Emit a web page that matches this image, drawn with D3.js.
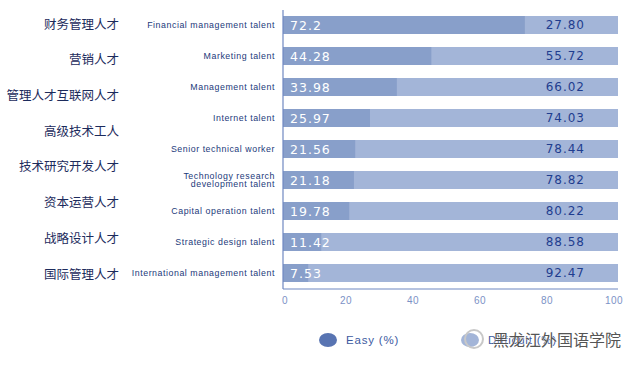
<!DOCTYPE html>
<html>
<head>
<meta charset="utf-8">
<script src="https://cdn.jsdelivr.net/npm/d3@7"></script>
<style>
  body { margin: 0; background: #fff; }
  svg { display: block; }
</style>
</head>
<body>
<div id="chart"></div>
<script>
var svgWidth = 643;
var svgHeight = 365;

// Data
var talentsEn = ["Financial management talent", "Marketing talent", "Management talent",
    "Internet talent", "Senior technical worker", "Technology research|development talent",
    "Capital operation talent", "Strategic design talent", "International management talent"];
var easyValues = [72.2, 44.28, 33.98, 25.97, 21.56, 21.18, 19.78, 11.42, 7.53];
var difficultValues = [27.80, 55.72, 66.02, 74.03, 78.44, 78.82, 80.22, 88.58, 92.47];
var easyLabels = ["72.2", "44.28", "33.98", "25.97", "21.56", "21.18", "19.78", "11.42", "7.53"];
var difficultLabels = ["27.80", "55.72", "66.02", "74.03", "78.44", "78.82", "80.22", "88.58", "92.47"];
var talentsZh = ["财务管理人才", "营销人才", "管理人才互联网人才", "高级技术工人",
    "技术研究开发人才", "资本运营人才", "战略设计人才", "国际管理人才"];
var xTicks = [0, 20, 40, 60, 80, 100];
var legendNames = ["Easy (%)", "Difficult (%)"];

var svg = d3.select("#chart").append("svg")
    .attr("width", svgWidth)
    .attr("height", svgHeight);

// Scales
var xScale = d3.scaleLinear().domain([0, 100]).range([283, 618]);
var yScale = d3.scaleBand().domain(d3.range(talentsEn.length))
    .range([9, 289]).paddingInner(13 / 31).paddingOuter(7 / 31);
var zhScale = d3.scalePoint().domain(d3.range(talentsZh.length)).range([24, 274]);

// Bars - difficult (light, full) then easy (dark)
svg.selectAll(".bar-diff")
    .data(difficultValues)
    .enter().append("rect")
    .attr("x", xScale(0))
    .attr("y", (d, i) => yScale(i))
    .attr("width", (d, i) => xScale(100) - xScale(0))
    .attr("height", yScale.bandwidth())
    .attr("fill", "#a3b5d8");

svg.selectAll(".bar-easy")
    .data(easyValues)
    .enter().append("rect")
    .attr("x", xScale(0))
    .attr("y", (d, i) => yScale(i))
    .attr("width", d => xScale(d) - xScale(0))
    .attr("height", yScale.bandwidth())
    .attr("fill", "#889fca");

// Value labels
svg.selectAll(".lbl-easy")
    .data(easyLabels)
    .enter().append("text")
    .attr("x", xScale(0) + 7)
    .attr("y", (d, i) => yScale(i) + yScale.bandwidth() / 2)
    .attr("dy", "0.36em")
    .style("font-family", "DejaVu Sans")
    .style("font-size", "12.5px")
    .style("letter-spacing", "1px")
    .style("fill", "white")
    .text(d => d);

svg.selectAll(".lbl-diff")
    .data(difficultLabels)
    .enter().append("text")
    .attr("x", 585)
    .attr("y", (d, i) => yScale(i) + yScale.bandwidth() / 2)
    .attr("dy", "0.36em")
    .attr("text-anchor", "end")
    .style("font-family", "DejaVu Sans")
    .style("font-size", "12px")
    .style("letter-spacing", "1px")
    .style("fill", "#1f3d8f")
    .text(d => d);

// English labels
var enText = svg.selectAll(".lbl-en")
    .data(talentsEn)
    .enter().append("text")
    .attr("text-anchor", "end")
    .attr("y", (d, i) => yScale(i) + yScale.bandwidth() / 2)
    .style("font-family", "Liberation Sans")
    .style("font-size", "8.8px")
    .style("letter-spacing", "0.55px")
    .style("fill", "#22397a");

enText.each(function (d) {
    var lines = d.split("|");
    var t = d3.select(this);
    lines.forEach(function (line, j) {
        t.append("tspan")
            .attr("x", 275)
            .attr("dy", j === 0 ? (0.35 - (lines.length - 1) * 0.5) + "em" : "1.0em")
            .text(line);
    });
});

// Chinese labels
svg.selectAll(".lbl-zh")
    .data(talentsZh)
    .enter().append("text")
    .attr("x", 119)
    .attr("y", (d, i) => zhScale(i))
    .attr("dy", "0.36em")
    .attr("text-anchor", "end")
    .style("font-family", "Noto Sans CJK SC")
    .style("font-size", "12.5px")
    .style("fill", "#1c2b5c")
    .text(d => d);

// Axes
var axisColor = "#6f88c2";
svg.append("line")
    .attr("x1", xScale(0)).attr("x2", xScale(0))
    .attr("y1", 10).attr("y2", 289)
    .attr("stroke", axisColor).attr("stroke-width", 1.2);
svg.append("line")
    .attr("x1", xScale(0)).attr("x2", xScale(100))
    .attr("y1", 289).attr("y2", 289)
    .attr("stroke", axisColor).attr("stroke-width", 1.2);

svg.selectAll(".tick-lbl")
    .data(xTicks)
    .enter().append("text")
    .attr("x", d => xScale(d) - (d === 0 ? -2 : 4))
    .attr("y", 304)
    .attr("text-anchor", "middle")
    .style("font-family", "Liberation Sans")
    .style("font-size", "10px")
    .style("letter-spacing", "0.5px")
    .style("fill", "#7b92c6")
    .text(d => d);

// Legend
var legendX = [328, 470];
var legendColors = ["#5874b2", "#a3b5d8"];
legendNames.forEach(function (name, i) {
    svg.append("ellipse")
        .attr("cx", legendX[i]).attr("cy", 340)
        .attr("rx", 9).attr("ry", 7)
        .attr("fill", legendColors[i]);
    svg.append("text")
        .attr("x", legendX[i] + 18).attr("y", 340)
        .attr("dy", "0.36em")
        .style("font-family", "Liberation Sans")
        .style("font-size", "11.5px")
        .style("letter-spacing", "0.8px")
        .style("fill", "#3d5a9f")
        .text(name);
});

// Watermark
svg.append("circle")
    .attr("cx", 474).attr("cy", 339).attr("r", 9)
    .attr("fill", "none").attr("stroke", "#c8c8c8").attr("stroke-width", 2);
svg.append("text")
    .attr("x", 493).attr("y", 340)
    .attr("dy", "0.36em")
    .style("font-family", "Noto Sans CJK SC")
    .style("font-size", "16px")
    .style("fill", "#555")
    .style("stroke", "white")
    .style("stroke-width", 0.6)
    .style("paint-order", "stroke")
    .text("黑龙江外国语学院");
</script>
</body>
</html>
